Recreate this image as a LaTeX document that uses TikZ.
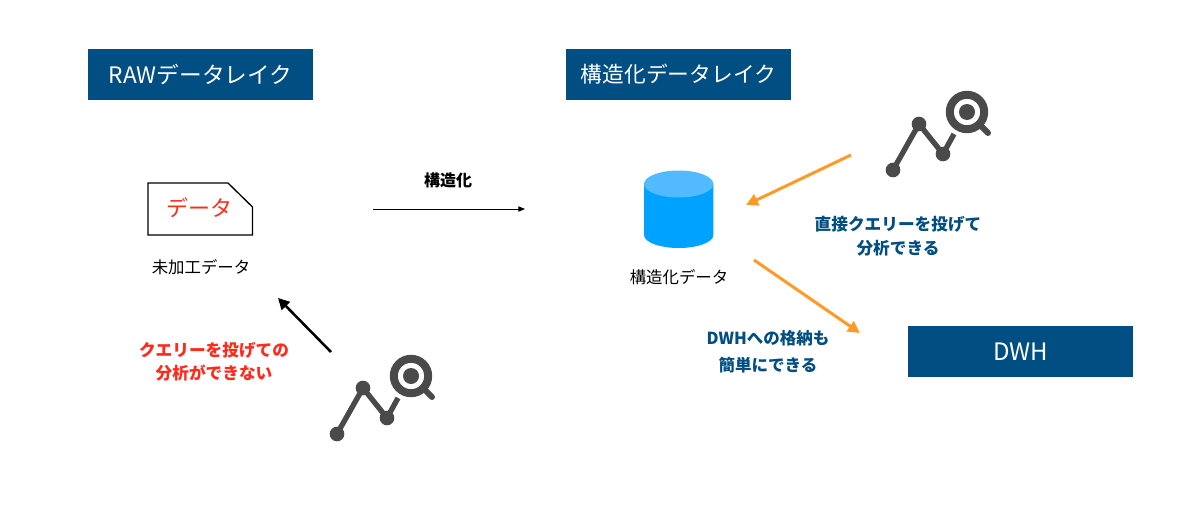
\documentclass[tikz,border=0pt]{standalone}
\usepackage{fontspec}
\setmainfont{Noto Sans CJK JP}
\usetikzlibrary{arrows.meta}
\definecolor{navy}{HTML}{004E82}
\definecolor{ired}{HTML}{FF2A1A}
\definecolor{iorange}{HTML}{FF9A26}
\definecolor{icongray}{HTML}{4A4A4A}
\definecolor{cylbody}{HTML}{00A2FF}
\definecolor{cyltop}{HTML}{52BBFF}
\tikzset{
  banner/.style={fill=navy,text=white,minimum width=168.75pt,minimum height=38.25pt,inner sep=0pt,anchor=center},
  plain/.style={text=black,inner sep=0pt,font=\fontsize{12.3}{15}\selectfont,align=center},
  bluetxt/.style={text=navy,inner sep=0pt,font=\fontsize{12.5}{18}\selectfont\bfseries,align=center},
  redtxt/.style={text=ired,inner sep=0pt,font=\fontsize{12.5}{17.6}\selectfont\bfseries,align=center},
  blacktxt/.style={text=black,inner sep=0pt,font=\fontsize{12}{15}\selectfont\bfseries},
  orangearrow/.style={draw=iorange,line width=2.25pt,-{Triangle[length=9pt,width=9pt]}},
  blackarrow/.style={draw=black,line width=1.9pt,-{Triangle[length=8.5pt,width=8.5pt]}},
  thinarrow/.style={draw=black,line width=0.75pt,-{Triangle[length=5pt,width=4pt]}},
  iconline/.style={draw=icongray,line width=4pt},
}
% #1 = name prefix, with the icon offset given by the enclosing scope
\newcommand{\analysisicon}[1]{%
  \coordinate (#1a) at (337,434);
  \coordinate (#1b) at (363,388);
  \coordinate (#1c) at (387,418);
  \coordinate (#1d) at (398,398);
  \coordinate (#1l) at (411,376);
  \coordinate (#1h) at (426,391);
  \coordinate (#1i) at (432,397);
  \draw[iconline] (#1a) -- (#1b) -- (#1c) -- (#1d);
  \fill[icongray] (#1a) circle (5.5pt) (#1b) circle (5.5pt) (#1c) circle (5.5pt);
  \draw[icongray,line width=4.5pt,line cap=round] (#1h) -- (#1i);
  \draw[icongray,line width=6pt] (#1l) circle (12.9pt);
  \fill[icongray] (#1l) circle (6pt);
}
\begin{document}
\begin{tikzpicture}[x=0.75pt,y=-0.75pt]
\useasboundingbox (0,0) rectangle (1200,525);
\node[banner,font=\fontsize{17}{20}\selectfont] (raw) at (200.5,74.5) {RAWデータレイク};
\node[banner,font=\fontsize{16.3}{20}\selectfont] (str) at (678.5,74.5) {構造化データレイク};
\node[banner,font=\fontsize{18}{20}\selectfont] (dwh) at (1020.5,351.5) {DWH};
% raw data document
\draw[black,line width=1pt] (148,183) -- (228,183) -- (252.5,207) -- (252.5,235) -- (148,235) -- cycle;
\node[text=ired,inner sep=0pt,font=\fontsize{16.5}{20}\selectfont] (doc) at (199.5,208) {データ};
\node[plain] (rawlabel) at (201,267) {未加工データ};
% cylinder
\fill[cylbody] (644,184) -- (644,235) arc[start angle=180,end angle=0,x radius=34.7,y radius=13] -- (713.4,184) -- cycle;
\fill[cyltop] (678.7,184) ellipse[x radius=34.7,y radius=13.5];
\node[plain] (strlabel) at (679,277) {構造化データ};
% middle arrow
\coordinate (mfrom) at (373,209);
\coordinate (mto) at (525,209);
\draw[thinarrow] (mfrom) -- (mto);
\node[blacktxt] (mlabel) at (448,180) {構造化};
% icons
\analysisicon{p}
\begin{scope}[shift={(556,-264)}]
\analysisicon{q}
\end{scope}
% arrows
\coordinate (bf) at (331,352);
\coordinate (bt) at (278,298);
\draw[blackarrow] (bf) -- (bt);
\coordinate (of) at (851,155);
\coordinate (ot) at (746,205);
\draw[orangearrow] (of) -- (ot);
\coordinate (rf) at (754,260);
\coordinate (rt) at (860,333);
\draw[orangearrow] (rf) -- (rt);
% labels
\node[redtxt] (redlabel) at (214,361.5) {クエリーを投げての\\分析ができない};
\node[bluetxt] (blue1) at (898,236) {直接クエリーを投げて\\分析できる};
\node[bluetxt,font=\fontsize{12.4}{20.5}\selectfont\bfseries] (blue2) at (768,352) {DWHへの格納も\\簡単にできる};
\end{tikzpicture}
\end{document}
